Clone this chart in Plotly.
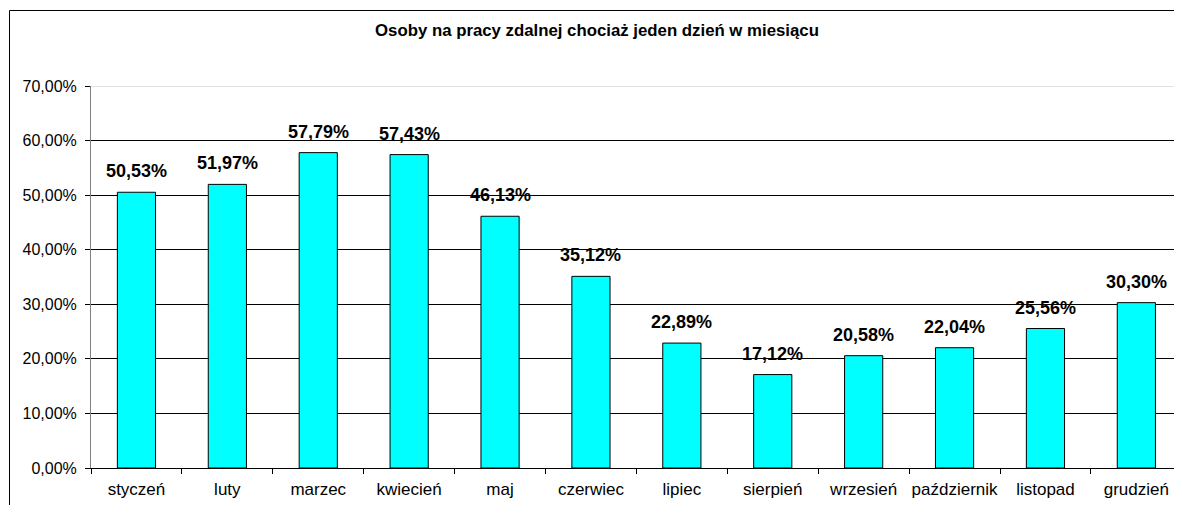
import plotly.graph_objects as go

months = ["styczeń", "luty", "marzec", "kwiecień", "maj", "czerwiec", "lipiec",
          "sierpień", "wrzesień", "październik", "listopad", "grudzień"]
values = [50.53, 51.97, 57.79, 57.43, 46.13, 35.12, 22.89, 17.12, 20.58, 22.04, 25.56, 30.30]
y_ticks = [0, 10, 20, 30, 40, 50, 60, 70]
y_tick_text = ["0,00%", "10,00%", "20,00%", "30,00%", "40,00%", "50,00%", "60,00%", "70,00%"]
title = "Osoby na pracy zdalnej chociaż jeden dzień w miesiącu"

FONT = "Liberation Sans, Arial, sans-serif"

# figure-pixel geometry (page has an 8px body margin, figure kept inside the window)
W, H = 1166, 497
L, R_EDGE, T, B_EDGE = 83, 1166, 78, 460
PW, PH = R_EDGE - L, B_EDGE - T
CAT_PX = 90.9

fig = go.Figure()
fig.add_trace(go.Bar(
    x=months, y=values,
    marker=dict(color="#00FFFF", line=dict(color="#000000", width=1)),
    width=0.42,
    hoverinfo="skip",
))

for m, v in zip(months, values):
    fig.add_annotation(
        x=m, y=v, text=("%.2f" % v).replace(".", ",") + "%",
        showarrow=False, yanchor="bottom", yshift=9,
        font=dict(family=FONT, size=18, color="#000000", weight="bold"),
    )

fig.add_annotation(
    xref="paper", yref="paper", x=(589 - L) / PW, y=1 + (T - 23) / PH,
    text="<b>" + title + "</b>", showarrow=False, xanchor="center", yanchor="middle",
    font=dict(family=FONT, size=16.8, color="#000000"),
)

# light top gridline (70%)
fig.add_shape(type="line", xref="paper", yref="y", x0=0, x1=1, y0=70, y1=70,
              line=dict(color="#C8C8C8", width=1), layer="above")

# outer chart frame (left and top edges only; the rest lies outside the crop)
fx0 = (1.5 - L) / PW
fy1 = 1 + (T - 2.5) / PH
fig.add_shape(type="line", xref="paper", yref="paper", x0=fx0, x1=1.0, y0=fy1, y1=fy1,
              line=dict(color="#000000", width=1), layer="below")
fig.add_shape(type="line", xref="paper", yref="paper", x0=fx0, x1=fx0, y0=-H / PH, y1=fy1,
              line=dict(color="#000000", width=1), layer="below")

fig.update_layout(
    width=W, height=H,
    margin=dict(l=L, r=W - R_EDGE, t=T, b=H - B_EDGE, autoexpand=False),
    paper_bgcolor="white", plot_bgcolor="white",
    showlegend=False,
    font=dict(family=FONT, size=15, color="#000000"),
    xaxis=dict(
        type="category", showline=True, linecolor="#000000", linewidth=1,
        ticks="outside", tickson="boundaries", ticklen=5, tickcolor="#000000",
        showgrid=False, tickfont=dict(size=17), tickangle=0, automargin=False,
        range=[-0.5, -0.5 + PW / CAT_PX], ticklabelstandoff=6,
    ),
    yaxis=dict(
        range=[0, 70], tickvals=y_ticks, ticktext=y_tick_text,
        showline=True, linecolor="#808080", linewidth=1,
        ticks="outside", ticklen=5, tickcolor="#000000",
        showgrid=True, gridcolor="#000000", gridwidth=1, automargin=False,
        zeroline=False, tickfont=dict(size=16), ticklabelstandoff=5,
    ),
)

fig.write_html("out.html")
